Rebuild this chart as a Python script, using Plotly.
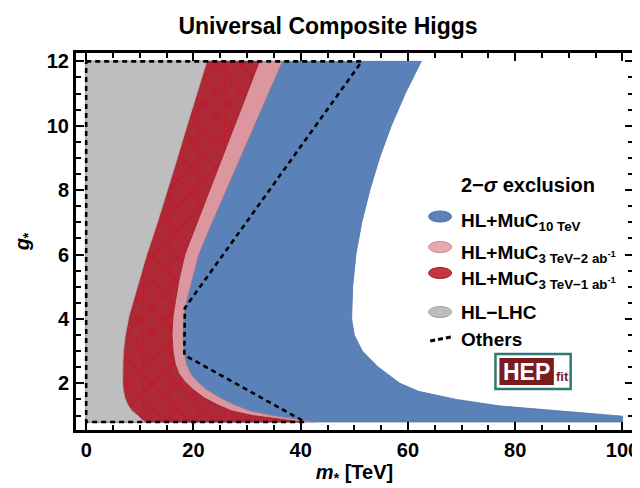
import plotly.graph_objects as go

# ---------------- data ----------------
g_grid = [0.8, 0.88, 1.0, 1.15, 1.35, 1.55, 1.8, 2.05, 2.3, 2.6, 3.0, 3.5,
          4.1, 4.6, 5.2, 6.0, 7.0, 8.0, 9.0, 10.0, 11.0, 12.0]
hl_lhc_x = [11.0, 10.3, 9.6, 8.5, 7.7, 7.2, 6.9, 6.8, 6.8, 6.85, 6.95, 7.3,
            8.0, 8.9, 9.9, 11.3, 13.3, 15.2, 17.0, 18.8, 20.6, 22.5]
muc3_1ab_x = [40.0, 36.6, 31.0, 27.0, 24.3, 22.0, 20.0, 18.4, 17.3, 16.6, 16.2, 16.0,
              16.2, 16.7, 17.3, 18.4, 20.7, 23.0, 25.3, 27.6, 30.0, 32.3]
muc3_2ab_x = [42.5, 39.7, 34.8, 30.5, 27.4, 25.0, 22.5, 20.8, 19.5, 18.7, 18.25, 18.05,
              18.2, 18.8, 19.7, 21.0, 23.5, 26.1, 28.7, 31.4, 34.0, 36.6]
muc10_g = [0.8, 0.98, 1.08, 1.15, 1.3, 1.5, 1.75, 2.0, 2.5, 3.0, 3.5, 4.0,
           5.0, 6.0, 7.0, 8.0, 9.0, 10.0, 11.0, 12.0]
muc10_x = [100, 100, 93, 86.5, 77, 69, 62, 58.5, 54.5, 51.5, 50.0, 49.5,
           49.7, 50.3, 51.4, 52.9, 54.7, 56.9, 59.5, 62.5]
others_x = [0, 51.4, 18.4, 18.3, 40.8, 0, 0]
others_g = [12, 12, 4.34, 2.88, 0.8, 0.8, 12]

x_ticks = [0, 20, 40, 60, 80, 100]
y_ticks = [2, 4, 6, 8, 10, 12]

legend_title = "2\u2212<i>\u03c3</i> exclusion"
legend_labels = ["HL+MuC<sub>10 TeV</sub>",
                 "HL+MuC<sub>3 TeV\u22122 ab<sup>-1</sup></sub>",
                 "HL+MuC<sub>3 TeV\u22121 ab<sup>-1</sup></sub>",
                 "HL\u2212LHC",
                 "Others"]

# ---------------- colours ----------------
C_BLUE = "#5a82b8"
C_PINK = "#dc96a0"
C_RED = "#ad2a36"
C_GRAY = "#bebebe"

FONT = "Liberation Sans"

fig = go.Figure()


def region(xs, gs, color, line, name, pattern=None):
    px = [0] + list(xs) + [0, 0]
    py = [gs[0]] + list(gs) + [gs[-1], gs[0]]
    kw = {}
    if pattern:
        kw["fillpattern"] = pattern
    fig.add_trace(go.Scatter(x=px, y=py, mode="lines", fill="toself",
                             fillcolor=color, line=dict(color=line, width=0.8),
                             name=name, showlegend=False, hoverinfo="skip", **kw))


# HL + MuC 10 TeV (closes along the bottom)
bx = [0] + muc10_x + [0, 0]
by = [muc10_g[0]] + muc10_g + [muc10_g[-1], muc10_g[0]]
fig.add_trace(go.Scatter(x=bx, y=by, mode="lines", fill="toself", fillcolor=C_BLUE,
                         line=dict(color="#4f74a8", width=0.8), showlegend=False,
                         hoverinfo="skip"))
region(muc3_2ab_x, g_grid, C_PINK, "#8a7f8f", "2ab")
region(muc3_1ab_x, g_grid, C_RED, "#9a1f2a", "1ab",
       pattern=dict(shape="x", fgcolor="#c8142a", bgcolor=C_RED, size=18,
                    solidity=0.12, fillmode="replace"))
# extra vertical mesh lines
fig.add_trace(go.Scatter(x=[0] + muc3_1ab_x + [0, 0],
                         y=[g_grid[0]] + g_grid + [g_grid[-1], g_grid[0]],
                         mode="lines", fill="toself", fillcolor="rgba(0,0,0,0)",
                         line=dict(width=0, color="rgba(0,0,0,0)"),
                         fillpattern=dict(shape="|", fgcolor="#c8142a", size=27,
                                          solidity=0.06, fillmode="overlay"),
                         showlegend=False, hoverinfo="skip"))
region(hl_lhc_x, g_grid, C_GRAY, "#b0b0b0", "HL-LHC")

fig.add_trace(go.Scatter(x=others_x, y=others_g, mode="lines",
                         line=dict(color="black", width=2.6, dash="5px,4px"),
                         showlegend=False, hoverinfo="skip"))

# ---------------- layout ----------------
L, R, T, B = 68, 631, 45, 422
W, H = 640, 488
PW, PH = R - L, B - T


def P(px, py):
    return (px - L) / PW, (B - py) / PH


axis_common = dict(showline=True, linewidth=3, linecolor="black", mirror="ticks",
                   ticks="inside", ticklen=8, tickwidth=2, tickcolor="black",
                   showgrid=False, zeroline=False,
                   tickfont=dict(family=FONT, size=20, color="black", weight="bold"))

fig.update_layout(
    width=W, height=H,
    margin=dict(l=L, r=W - R, t=T, b=H - B),
    paper_bgcolor="white", plot_bgcolor="white",
    title=dict(text="<b>Universal Composite Higgs</b>", x=0.5, xanchor="center",
               y=1 - 18 / H, yanchor="middle", yref="container",
               font=dict(family=FONT, size=23, color="black")),
    xaxis=dict(range=[-1.9, 101.97], tickvals=x_ticks,
               minor=dict(ticks="inside", dtick=5, ticklen=5, tickwidth=2, tickcolor="black"),
               title=dict(text="<b><i>m</i><sub>*</sub> [TeV]</b>", standoff=5,
                          font=dict(family=FONT, size=20, color="black")),
               **axis_common),
    yaxis=dict(range=[0.55, 12.26], tickvals=y_ticks,
               minor=dict(ticks="inside", dtick=0.5, ticklen=5, tickwidth=2, tickcolor="black"),
               title=dict(text="<b><i>g</i><sub>*</sub></b>", standoff=12,
                          font=dict(family=FONT, size=20, color="black")),
               **axis_common),
    showlegend=False,
)

# ---------------- custom legend ----------------
shapes = []
annotations = []
tx, ty = P(455, 177)
annotations.append(dict(x=tx, y=ty, xref="paper", yref="paper", xanchor="left",
                        yanchor="middle", showarrow=False, text="<b>" + legend_title + "</b>",
                        font=dict(family=FONT, size=20, color="black")))
ell = [(208.5, C_BLUE, "#4a6fa0"), (239, "#e8aab2", "#c48890"),
       (265, "#c8343f", "#9a1f2a"), (304, C_GRAY, "#a0a0a0")]
text_y = [214, 246, 272, 304, 331]
for (cy, fc, lc) in ell:
    ax, ay = P(436, cy)
    shapes.append(dict(type="circle", xref="paper", yref="paper", xsizemode="pixel",
                       ysizemode="pixel", xanchor=ax, yanchor=ay, x0=-11.5, x1=11.5,
                       y0=-5.5, y1=5.5, fillcolor=fc, line=dict(color=lc, width=1)))
# dashed sample for "Others"
x0p, y0p = P(426, 333)
x1p, y1p = P(447, 329)
shapes.append(dict(type="line", xref="paper", yref="paper", x0=x0p, y0=y0p, x1=x1p, y1=y1p,
                   line=dict(color="black", width=3, dash="5px,3px")))
for lab, yy in zip(legend_labels, text_y):
    ax, ay = P(455, yy)
    annotations.append(dict(x=ax, y=ay, xref="paper", yref="paper", xanchor="left",
                            yanchor="middle", showarrow=False, text="<b>" + lab + "</b>",
                            font=dict(family=FONT, size=19, color="black")))

# HEPfit logo
a0 = P(492, 381)
a1 = P(568, 346)
shapes.append(dict(type="rect", xref="paper", yref="paper", x0=a0[0], y0=a0[1], x1=a1[0], y1=a1[1],
                   fillcolor="white", line=dict(color="#2f7a70", width=2.5)))
b0 = P(496, 377)
b1 = P(551, 350)
shapes.append(dict(type="rect", xref="paper", yref="paper", x0=b0[0], y0=b0[1], x1=b1[0], y1=b1[1],
                   fillcolor="#7a1c1e", line=dict(width=0)))
hx, hy = P(523.5, 363.5)
annotations.append(dict(x=hx, y=hy, xref="paper", yref="paper", xanchor="center", yanchor="middle",
                        showarrow=False, text="<b>HEP</b>",
                        font=dict(family=FONT, size=23, color="white")))
fx, fy = P(559.5, 368)
annotations.append(dict(x=fx, y=fy, xref="paper", yref="paper", xanchor="center", yanchor="middle",
                        showarrow=False, text="<b>fit</b>",
                        font=dict(family=FONT, size=13, color="#7a1c1e")))

fig.update_layout(shapes=shapes, annotations=annotations)

fig.write_html("out.html")
